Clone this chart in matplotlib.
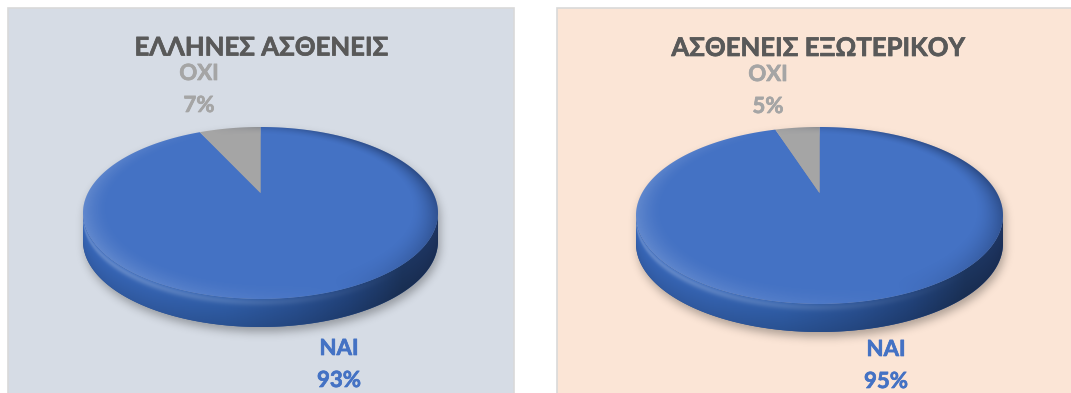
import numpy as np
import matplotlib
matplotlib.use("Agg")
import matplotlib.pyplot as plt
import matplotlib.patheffects as pe
from matplotlib.patches import Rectangle, Polygon
from matplotlib.path import Path
from matplotlib.colors import LinearSegmentedColormap
from matplotlib import font_manager, ft2font

# ---- data -------------------------------------------------------------
categories = ["ΝΑΙ", "ΟΧΙ"]
panel_titles = ["ΕΛΛΗΝΕΣ ΑΣΘΕΝΕΙΣ", "ΑΣΘΕΝΕΙΣ ΕΞΩΤΕΡΙΚΟΥ"]
greek_patients = [93, 7]
foreign_patients = [95, 5]
series = [greek_patients, foreign_patients]

# ---- style ------------------------------------------------------------
slice_colors = ["#4472C4", "#A5A5A5"]
label_colors = ["#4472C4", "#A5A5A5"]
panel_faces = ["#D6DCE5", "#FBE5D6"]
panel_edge = "#D9D9D9"
title_color = "#595959"
side_cmap = LinearSegmentedColormap.from_list(
    "rim",
    [(0.00, "#3A6BC0"), (0.20, "#3767B8"), (0.40, "#3160AC"),
     (0.60, "#2A5295"), (0.75, "#23457F"), (0.90, "#1D3660"), (1.00, "#1E3562")])


def pick_family(candidates):
    for name in candidates:
        try:
            path = font_manager.findfont(
                font_manager.FontProperties(family=name, weight="bold"),
                fallback_to_default=False)
            if 0x0394 in ft2font.FT2Font(path).get_charmap():
                return name
        except Exception:
            pass
    return "DejaVu Sans"


FAMILY = [pick_family(["Lato", "Open Sans", "Noto Sans"]), "DejaVu Sans"]

W, H = 1071, 393
# panel boxes in pixels (x0, y0, x1, y1)
panels = [(7.5, 7.5, 514, 404), (557, 8, 1085, 404)]
# pie geometry: apex x, apex y, back edge y, front edge y, half width, rim depth
disc_geom = [(260.5, 193, 127, 299, 177.5, 28), (819.5, 193, 127, 304, 183.5, 28)]
title_xy = [(262, 55.5), (819, 56)]
# baseline of category name; the percentage sits one line below
label_xy = [[(339, 355), (199, 80)], [(886, 356), (768, 81)]]
line_gap = 32
title_size = 18.5
label_size = 16


def make_disc(cx, cy, back, front, half_w, depth):
    a, b = cy - back, front - cy
    k = (b - a) / (b + a)
    return dict(cx=cx, cy=cy, k=k, A=half_w * np.sqrt(1 - k * k), B=a * (1 + k),
                hw=half_w, depth=depth, back=back, front=front)


def project(d, u, v, drop=0.0):
    den = 1 + d["k"] * v
    return d["cx"] + d["A"] * u / den, d["cy"] - d["B"] * v / den + drop


def unproject(d, x, y):
    t = d["cy"] - y
    v = t / (d["B"] - d["k"] * t)
    u = (x - d["cx"]) * (1 + d["k"] * v) / d["A"]
    return u, v


def blur(img, sigma):
    r = int(3 * sigma)
    x = np.arange(-r, r + 1)
    ker = np.exp(-x ** 2 / (2 * sigma ** 2))
    ker /= ker.sum()
    img = np.apply_along_axis(lambda m: np.convolve(m, ker, mode="same"), 0, img)
    img = np.apply_along_axis(lambda m: np.convolve(m, ker, mode="same"), 1, img)
    return img


def pixel_grid(x0, x1, y0, y1):
    xs = np.arange(x0, x1) + 0.5
    ys = np.arange(y0, y1) + 0.5
    X, Y = np.meshgrid(xs, ys)
    return xs, ys, X, Y


def bold_text(x, y, s, size, color):
    ax.text(x, y, s, ha="center", va="baseline", fontsize=size,
            fontweight="bold", color=color, family=FAMILY, zorder=6,
            path_effects=[pe.withStroke(linewidth=0.5, foreground=color)])


fig = plt.figure(figsize=(W / 100, H / 100), dpi=100)
fig.patch.set_facecolor("white")
ax = fig.add_axes([0, 0, 1, 1])

for p, (x0, y0, x1, y1) in enumerate(panels):
    ax.add_patch(Rectangle((x0, y0), x1 - x0, y1 - y0, facecolor=panel_faces[p],
                           edgecolor=panel_edge, linewidth=1.2, zorder=0))

for p, values in enumerate(series):
    d = make_disc(*disc_geom[p])
    cx, cy, k, hw, depth = d["cx"], d["cy"], d["k"], d["hw"], d["depth"]
    th0 = np.pi + np.arcsin(k)        # left silhouette point
    th1 = 2 * np.pi - np.arcsin(k)    # right silhouette point

    # soft drop shadow under the disc
    back_arc = np.linspace(th0, th1 - 2 * np.pi, 300)
    front_arc = np.linspace(th1, th0, 300)
    bx, by = project(d, np.cos(back_arc), np.sin(back_arc))
    fx, fy = project(d, np.cos(front_arc), np.sin(front_arc), drop=depth)
    silhouette = Path(np.column_stack([np.r_[bx, fx], np.r_[by, fy]]))
    sx0, sx1 = int(cx - hw) - 30, int(cx + hw) + 30
    sy0, sy1 = int(d["back"]) - 20, int(d["front"] + depth) + 30
    xs, ys, X, Y = pixel_grid(sx0, sx1, sy0, sy1)
    inside = silhouette.contains_points(
        np.column_stack([(X - 2).ravel(), (Y - 5).ravel()])).reshape(X.shape)
    soft = blur(inside.astype(float), 4.5)
    shadow = np.zeros(X.shape + (4,))
    shadow[..., 3] = 0.30 * soft
    ax.imshow(shadow, extent=(sx0, sx1, sy1, sy0), interpolation="bilinear", zorder=2)

    # rim (side wall) of the disc
    top_arc = np.linspace(th0, th1, 400)
    ex, ey = project(d, np.cos(top_arc), np.sin(top_arc))
    side_pts = np.column_stack([np.r_[ex, ex[::-1]], np.r_[ey, ey[::-1] + depth]])
    side_patch = Polygon(side_pts, closed=True, facecolor="#2C5394",
                         edgecolor="none", zorder=3)
    ax.add_patch(side_patch)
    rx0, rx1 = int(cx - hw) - 2, int(cx + hw) + 3
    ry0, ry1 = int(cy) - 2, int(d["front"] + depth) + 3
    xs, ys, X, Y = pixel_grid(rx0, rx1, ry0, ry1)
    s = np.clip((X - cx) / hw, -1, 1)
    rgb = side_cmap((s + 1) / 2)[..., :3]
    ytop = np.interp(xs, ex, ey)
    f = np.clip((Y - ytop[None, :]) / depth, 0, 1)
    glow = np.exp(-((f - 0.12) / 0.13) ** 2) * np.clip(0.8 - s, 0, 1.6) / 1.6
    rgb = rgb + (1 - rgb) * 0.20 * glow[..., None]
    rgb = rgb * (1 - 0.15 * f[..., None])
    im = ax.imshow(np.clip(rgb, 0, 1), extent=(rx0, rx1, ry1, ry0),
                   interpolation="bilinear", zorder=3.5)
    im.set_clip_path(side_patch)

    # top face: slices from the pie layout, mapped onto the tilted disc
    wedges, _ = ax.pie(values, colors=slice_colors, startangle=90,
                       counterclock=False, radius=1.0, center=(0, 0))
    for w in wedges:
        th = np.radians(np.linspace(w.theta1, w.theta2, 360))
        u = np.r_[w.center[0], w.center[0] + w.r * np.cos(th)]
        v = np.r_[w.center[1], w.center[1] + w.r * np.sin(th)]
        x, y = project(d, u, v)
        ax.add_patch(Polygon(np.column_stack([x, y]), closed=True,
                             facecolor=w.get_facecolor(), edgecolor="none",
                             zorder=4))
        w.remove()

    # bevel lighting around the edge of the top face
    full = np.linspace(0, 2 * np.pi, 500)
    ux, uy = project(d, np.cos(full), np.sin(full))
    face_patch = Polygon(np.column_stack([ux, uy]), closed=True,
                         facecolor="none", edgecolor="none", zorder=4)
    ax.add_patch(face_patch)
    tx0, tx1 = int(cx - hw) - 2, int(cx + hw) + 3
    ty0, ty1 = int(d["back"]) - 2, int(d["front"]) + 3
    xs, ys, X, Y = pixel_grid(tx0, tx1, ty0, ty1)
    U, V = unproject(d, X, Y)
    R = np.hypot(U, V)
    TH = np.arctan2(V, U)
    band = np.clip((R - 0.86) / 0.14, 0, 1) ** 1.6
    L = np.array([-0.8, -0.3])
    L = L / np.hypot(*L)
    dot = np.cos(TH) * L[0] + np.sin(TH) * L[1]
    bevel = np.zeros(X.shape + (4,))
    lit = dot > 0
    bevel[lit, :3] = 1.0
    bevel[lit, 3] = 0.16 * band[lit] * dot[lit]
    bevel[~lit, :3] = (0.05, 0.10, 0.22)
    bevel[~lit, 3] = 0.45 * band[~lit] * (-dot[~lit])
    im = ax.imshow(bevel, extent=(tx0, tx1, ty1, ty0), interpolation="bilinear",
                   zorder=5)
    im.set_clip_path(face_patch)

    # title and data labels
    bold_text(*title_xy[p], panel_titles[p], title_size, title_color)
    for i, cat in enumerate(categories):
        lx, ly = label_xy[p][i]
        bold_text(lx, ly, cat, label_size, label_colors[i])
        bold_text(lx, ly + line_gap, f"{values[i]}%", label_size, label_colors[i])

ax.set_aspect("auto")
ax.set_xlim(0, W)
ax.set_ylim(H, 0)
ax.axis("off")
fig.savefig("out.png", dpi=100, facecolor="white")
